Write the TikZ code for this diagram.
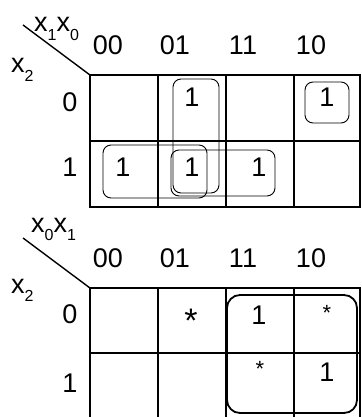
\documentclass[tikz,border=0pt]{standalone}
\usepackage{fontspec}
\setmainfont{Liberation Sans}
\usetikzlibrary{positioning}
\newcommand{\lo}[1]{\raisebox{-0.3em}{\fontsize{16}{16}\selectfont #1}}

\begin{document}
\begin{tikzpicture}[x=1pt, y=-1pt,
  lab/.style  ={inner sep=0pt, font=\fontsize{27}{30}\selectfont},
  var/.style  ={inner sep=0pt, anchor=base west, font=\fontsize{27}{30}\selectfont},
  bigstar/.style={inner sep=0pt, anchor=base, font=\fontsize{34}{36}\selectfont},
  smstar/.style ={inner sep=0pt, anchor=base, font=\fontsize{22}{24}\selectfont},
  kgrid/.style={line width=2pt},
  diag/.style ={line width=1.4pt},
  grp/.style  ={line width=.9pt, rounded corners=8pt},
  quad/.style ={line width=1.8pt, rounded corners=13pt}]

  \useasboundingbox (0,0) rectangle (361,417);

  % --- first map: x1x0 / x2 -----------------------------------------------
  \coordinate (tcorner) at (90,75);
  \draw[diag] (tcorner) -- ++(-67,-50);
  \node[var] (thead) at (34,32) {x\lo{1}x\lo{0}};
  \node[var] (tside) at (11,73) {x\lo{2}};

  \node[lab] (tc00) at (108,45) {00};
  \node[lab] (tc01) at (175,45) {01};
  \node[lab] (tc11) at (243,45) {11};
  \node[lab] (tc10) at (311,45) {10};
  \node[lab] (tr0) at (70,102) {0};
  \node[lab] (tr1) at (70,167) {1};

  \draw[kgrid] (tcorner) rectangle (360,207);
  \foreach \x in {158,226,294}
    \draw[kgrid] (\x,75) -- (\x,207);
  \draw[kgrid] (90,141) -- (360,141);

  \node[lab] (t01a) at (192,97)  {1};
  \node[lab] (t10a) at (327,97)  {1};
  \node[lab] (t00b) at (123,167) {1};
  \node[lab] (t01b) at (192,167) {1};
  \node[lab] (t11b) at (259,167) {1};

  % groups
  \draw[grp] (173,79)  rectangle (219,193);
  \draw[grp] (305,82)  rectangle (349,123);
  \draw[grp] (103,145) rectangle (207,198);
  \draw[grp] (171,150) rectangle (275,196);

  % --- second map: x0x1 / x2 ----------------------------------------------
  \coordinate (bcorner) at (90,288);
  \draw[diag] (bcorner) -- ++(-67,-50);
  \node[var] (bhead) at (31,232) {x\lo{0}x\lo{1}};
  \node[var] (bside) at (11,293) {x\lo{2}};

  \node[lab] (bc00) at (108,258) {00};
  \node[lab] (bc01) at (175,258) {01};
  \node[lab] (bc11) at (243,258) {11};
  \node[lab] (bc10) at (311,258) {10};
  \node[lab] (br0) at (70,314) {0};
  \node[lab] (br1) at (70,383) {1};

  \draw[kgrid] (90,417) -- (bcorner) -- (360,288) -- (360,417);
  \foreach \x in {158,226,294}
    \draw[kgrid] (\x,288) -- (\x,417);
  \draw[kgrid] (90,353) -- (360,353);

  \node[bigstar] (b01a) at (191,332) {*};
  \node[lab]     (b11a) at (259,315) {1};
  \node[smstar]  (b10a) at (327,320) {*};
  \node[smstar]  (b11b) at (260,376) {*};
  \node[lab]     (b10b) at (327,372) {1};

  % group
  \draw[quad] (227,295) rectangle (357,413);
\end{tikzpicture}
\end{document}
